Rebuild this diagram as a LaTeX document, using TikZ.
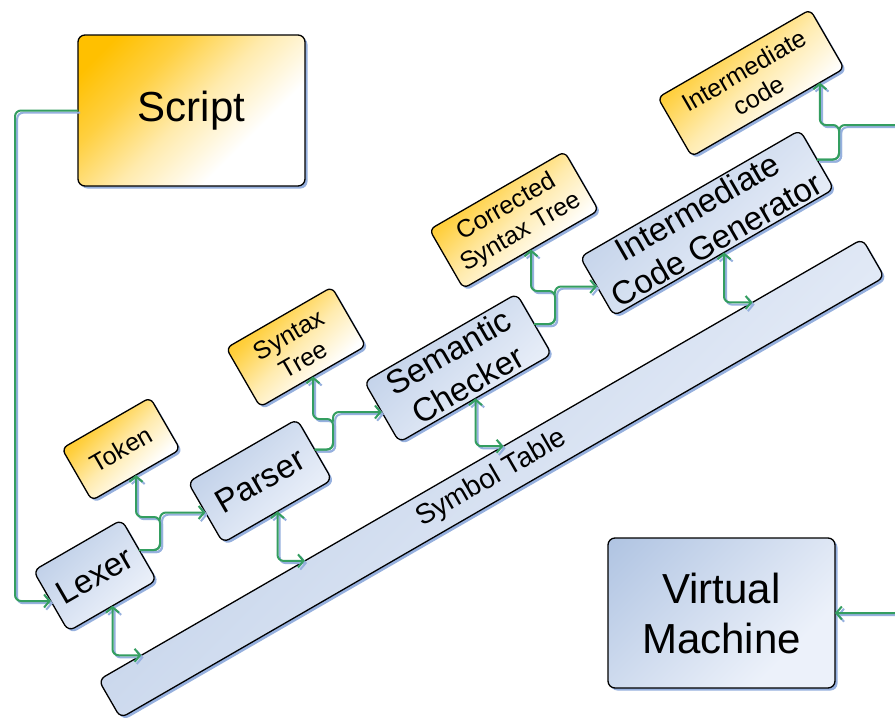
\documentclass[tikz,border=0pt]{standalone}
\usepackage{fontspec}
\setmainfont{Liberation Sans}
\usetikzlibrary{arrows.meta,shadows,calc}

\definecolor{boxblueD}{RGB}{176,196,226}
\definecolor{boxblueL}{RGB}{236,241,250}
\definecolor{boxorange}{RGB}{255,192,0}
\definecolor{linkgreen}{RGB}{52,158,96}
\definecolor{shadowblue}{RGB}{150,176,222}

% diagonal fills (turned by 45 degrees: dark corner at the top left)
\pgfdeclareverticalshading{bluefade}{100bp}{color(0bp)=(boxblueL); color(30bp)=(boxblueL); color(85bp)=(boxblueD); color(100bp)=(boxblueD)}
\pgfdeclareverticalshading{orangefade}{100bp}{color(0bp)=(white); color(34bp)=(white); color(50bp)=(boxorange!32!white); color(65bp)=(boxorange!75!white); color(78bp)=(boxorange); color(100bp)=(boxorange)}

\tikzset{
  box/.style={draw=black, line width=1.3pt, rounded corners=7pt, inner sep=0pt, outer sep=0pt,
    align=center, shading angle=45,
    general shadow={fill=shadowblue, shadow xshift=2.5pt, shadow yshift=-2.5pt}},
  bluebox/.style={box, shading=bluefade},
  orangebox/.style={box, shading=orangefade},
  hugetext/.style={font=\fontsize{42}{50}\selectfont},
  bigtext/.style={font=\fontsize{33}{38}\selectfont},
  midtext/.style={font=\fontsize{28}{32}\selectfont},
  smalltext/.style={font=\fontsize{25}{29}\selectfont},
  tilted/.style={rotate=30},
  flow/.style={draw=linkgreen, line width=2pt, rounded corners=6pt,
    -{Straight Barb[length=5.5pt,width=13pt]},
    preaction={draw=shadowblue, line width=2pt, transform canvas={xshift=2.2pt, yshift=-2.2pt}}},
  flowboth/.style={flow, {Straight Barb[length=5.5pt,width=13pt]}-{Straight Barb[length=5.5pt,width=13pt]}},
}

\begin{document}
\begin{tikzpicture}[x=1pt, y=-1pt]
\useasboundingbox (0,0) rectangle (895,718);
\fill[white] (0,0) rectangle (895,718);
\clip (0,0) rectangle (895,718);

% stages of the pipeline
\node[bluebox, tilted, minimum width=882pt, minimum height=44pt, midtext] (sym) at (491.5,478.5) {Symbol Table};

\node[orangebox, minimum width=227pt, minimum height=151pt, hugetext] (script) at (191.5,110.5) {Script};
\node[bluebox, minimum width=227pt, minimum height=150pt, hugetext] (vm) at (721.5,613) {Virtual\\Machine};

\node[bluebox, tilted, minimum width=102pt, minimum height=70pt, bigtext] (lexer) at (95,575.5) {Lexer};
\node[bluebox, tilted, minimum width=126pt, minimum height=70pt, bigtext] (parser) at (260,481) {Parser};
\node[bluebox, tilted, minimum width=176pt, minimum height=70pt, bigtext] (sem) at (458,368) {Semantic\\Checker};
\node[bluebox, tilted, minimum width=254pt, minimum height=68pt, bigtext] (icg) at (707,223) {Intermediate\\Code Generator};

% intermediate products
\node[orangebox, tilted, minimum width=102pt, minimum height=60pt, smalltext, rounded corners=6pt] (token) at (121,449) {Token};
\node[orangebox, tilted, minimum width=122pt, minimum height=68pt, smalltext, rounded corners=6pt] (syntax) at (296,347) {Syntax\\Tree};
\node[orangebox, tilted, minimum width=156pt, minimum height=68pt, smalltext, rounded corners=6pt] (corr) at (514,220) {Corrected\\Syntax Tree};
\node[orangebox, tilted, minimum width=176pt, minimum height=68pt, smalltext, rounded corners=6pt] (ic) at (751,83) {Intermediate\\code};

% bend points of the connectors
\coordinate (jS) at (15,0);
\coordinate (j1) at (160,517);
\coordinate (j2) at (333,419);
\coordinate (j3) at (555,291);
\coordinate (j4) at (839,125);
\coordinate (jR) at (912,0);
\coordinate (icin) at ($(ic.south west)!0.84!(ic.south east)$);
\coordinate (s1) at ($(sym.north west)!0.056!(sym.north east)$);
\coordinate (s2) at ($(sym.north west)!0.27!(sym.north east)$);
\coordinate (s3) at ($(sym.north west)!0.53!(sym.north east)$);
\coordinate (s4) at ($(sym.north west)!0.856!(sym.north east)$);

% data flow
\draw[flow] (script.west) -| (jS |- lexer.west) -- (lexer.west);

\draw[flow] (lexer.east) -| (j1 |- parser.west) -- (parser.west);
\draw[flow] (lexer.east) -| (j1) -| (token.south);

\draw[flow] (parser.east) -| (j2 |- sem.west) -- (sem.west);
\draw[flow] (parser.east) -| (j2) -| (syntax.south);

\draw[flow] (sem.east) -| (j3 |- icg.west) -- (icg.west);
\draw[flow] (sem.east) -| (j3) -| (corr.south);

\draw[flow] (icg.east) -| (j4) -| (icin);
\draw[flow] (icg.east) -| (j4) -- (j4 -| jR) |- (vm.east);

% symbol table access
\draw[flowboth] (lexer.south) |- (s1);
\draw[flowboth] (parser.south) |- (s2);
\draw[flowboth] (sem.south) |- (s3);
\draw[flowboth] (icg.south) |- (s4);
\end{tikzpicture}
\end{document}
